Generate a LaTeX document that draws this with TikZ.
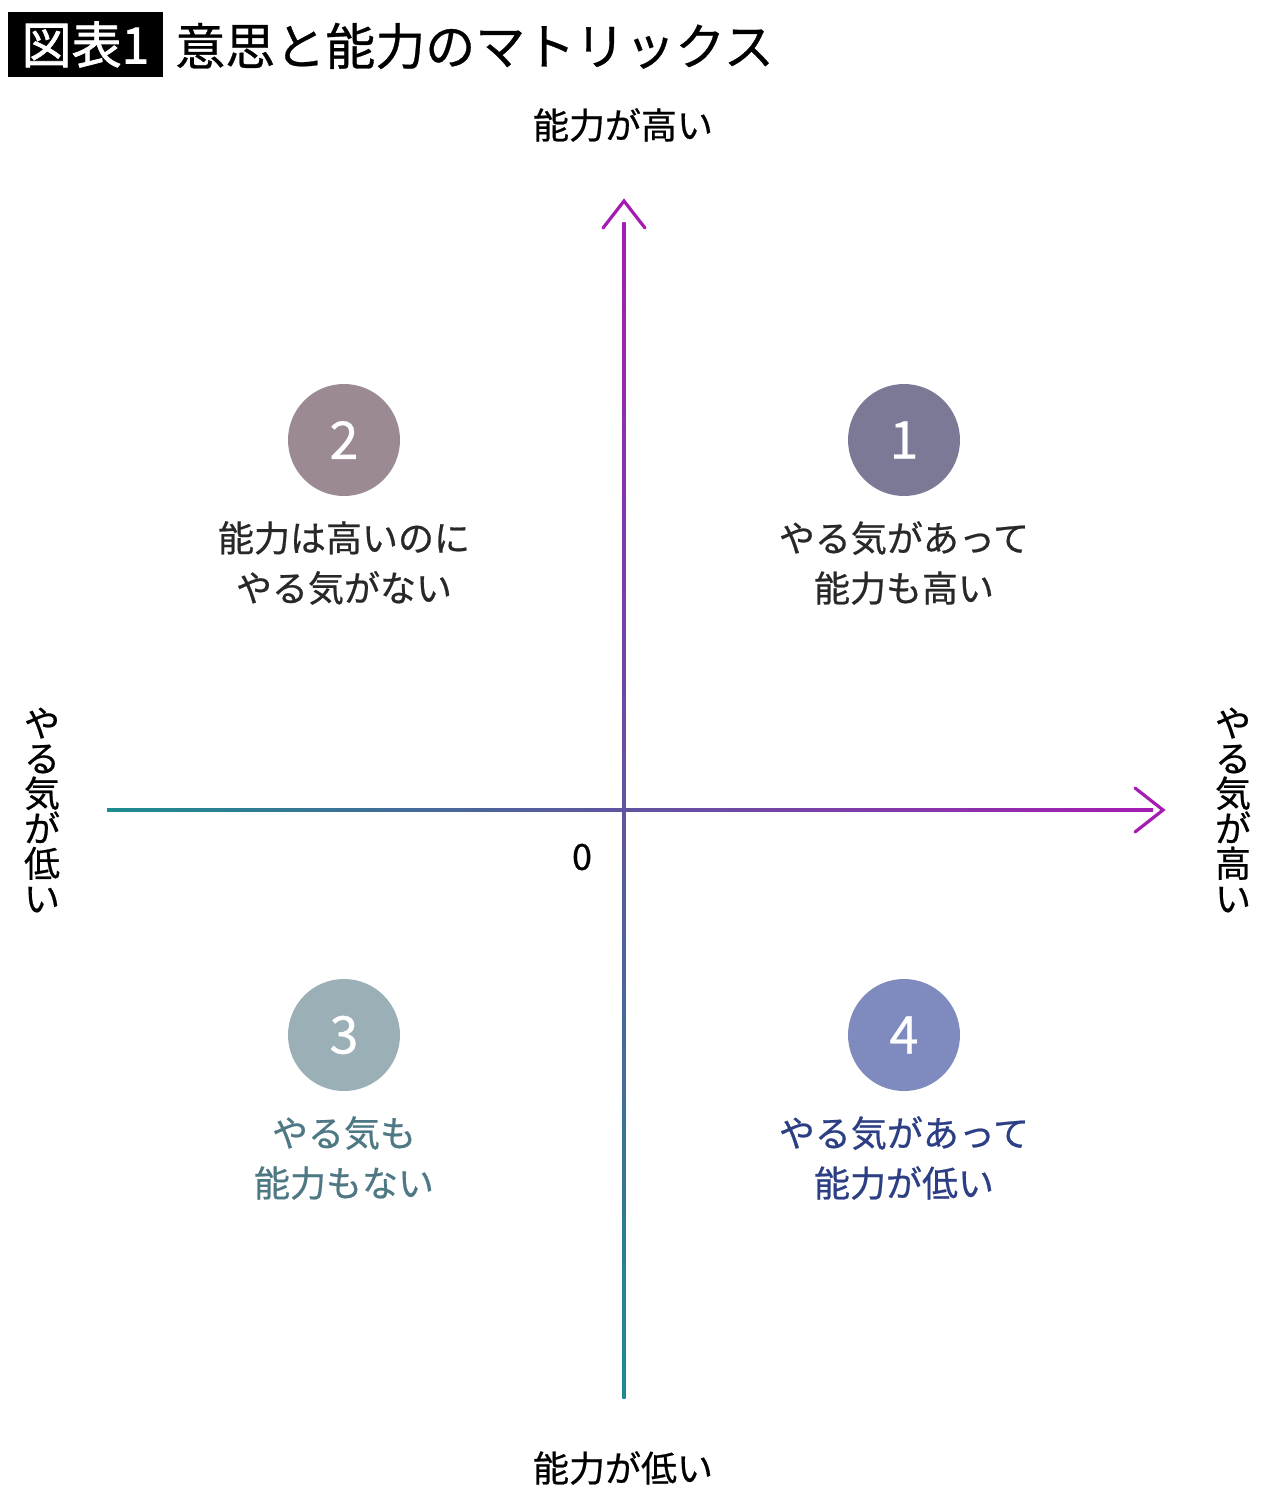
\documentclass[tikz,border=0pt]{standalone}
\usepackage{fontspec}
\setmainfont{Noto Sans CJK JP}
\newfontfamily\jpmed[FakeBold=0.6]{Noto Sans CJK JP}
\newfontfamily\jpsemi[FakeBold=1.4]{Noto Sans CJK JP}
\usetikzlibrary{calc}
\definecolor{axteal}{RGB}{28,140,142}
\definecolor{axpurple}{RGB}{165,28,178}
\definecolor{axmid}{RGB}{132,112,182}
\definecolor{cone}{RGB}{123,121,150}
\definecolor{ctwo}{RGB}{155,138,148}
\definecolor{cthree}{RGB}{154,176,182}
\definecolor{cfour}{RGB}{127,139,190}
\definecolor{tdark}{RGB}{40,40,40}
\definecolor{tthree}{RGB}{78,120,132}
\definecolor{tfour}{RGB}{44,62,132}
\tikzset{
  numcirc/.style={circle, inner sep=0pt, minimum size=84pt, text=white, font=\jpmed\fontsize{39}{40}\selectfont},
  qlabel/.style={align=center, font=\jpmed\fontsize{27}{37.5}\selectfont},
  axlabel/.style={font=\jpmed\fontsize{27}{32}\selectfont, text=black},
  vlabel/.style={align=center, font=\jpmed\fontsize{27}{26.3}\selectfont, text=black},
  chevron/.style={draw=axpurple, line width=2.4pt, line cap=round, line join=miter}
}
\begin{document}
\begin{tikzpicture}[x=0.75pt, y=-0.75pt]
\useasboundingbox (0,0) rectangle (1280,1506);
\fill[white] (0,0) rectangle (1280,1506);
% title
\node[fill=black, text=white, inner sep=0pt, minimum width=116.25pt, minimum height=48.75pt,
  font=\jpsemi\fontsize{37.5}{40}\selectfont] (tag) at (85.5,44.5) {図表1};
\node[anchor=west, inner sep=0pt, font=\jpmed\fontsize{37.5}{40}\selectfont, text=black] (title) at (175,46) {意思と能力のマトリックス};
% axes
\coordinate (xl) at (107,810);
\coordinate (xr) at (1153,810);
\coordinate (xtip) at (1163,810);
\coordinate (yb) at (624,1398);
\coordinate (yt) at (624,222);
\coordinate (ytip) at (624,201);
\shade[left color=axteal, middle color=axmid, right color=axpurple] ($(xl)+(0,-1.6)$) rectangle ($(xr)+(0,1.6)$);
\shade[bottom color=axteal, middle color=axmid, top color=axpurple] ($(yt)+(-1.6,0)$) rectangle ($(yb)+(1.6,0)$);
\draw[chevron] ($(xtip)+(-28,-22)$) -- (xtip) -- ($(xtip)+(-28,22)$);
\draw[chevron] ($(ytip)+(-21,27)$) -- (ytip) -- ($(ytip)+(21,27)$);
% axis labels
\node[axlabel] (hi) at (623,125) {能力が高い};
\node[axlabel] (lo) at (623,1468) {能力が低い};
\node[axlabel] (zero) at (582,857) {0};
\node[vlabel] (mlo) at (42,810) {や\\る\\気\\が\\低\\い};
\node[vlabel] (mhi) at (1233,810) {や\\る\\気\\が\\高\\い};
% quadrants
\node[numcirc, fill=cone] (n1) at (904,440) {1};
\node[numcirc, fill=ctwo] (n2) at (344,440) {2};
\node[numcirc, fill=cthree] (n3) at (344,1035) {3};
\node[numcirc, fill=cfour] (n4) at (904,1035) {4};
\node[qlabel, text=tdark] (q1) at (904,563) {やる気があって\\能力も高い};
\node[qlabel, text=tdark] (q2) at (344,563) {能力は高いのに\\やる気がない};
\node[qlabel, text=tthree] (q3) at (344,1158) {やる気も\\能力もない};
\node[qlabel, text=tfour] (q4) at (904,1158) {やる気があって\\能力が低い};
\end{tikzpicture}
\end{document}
